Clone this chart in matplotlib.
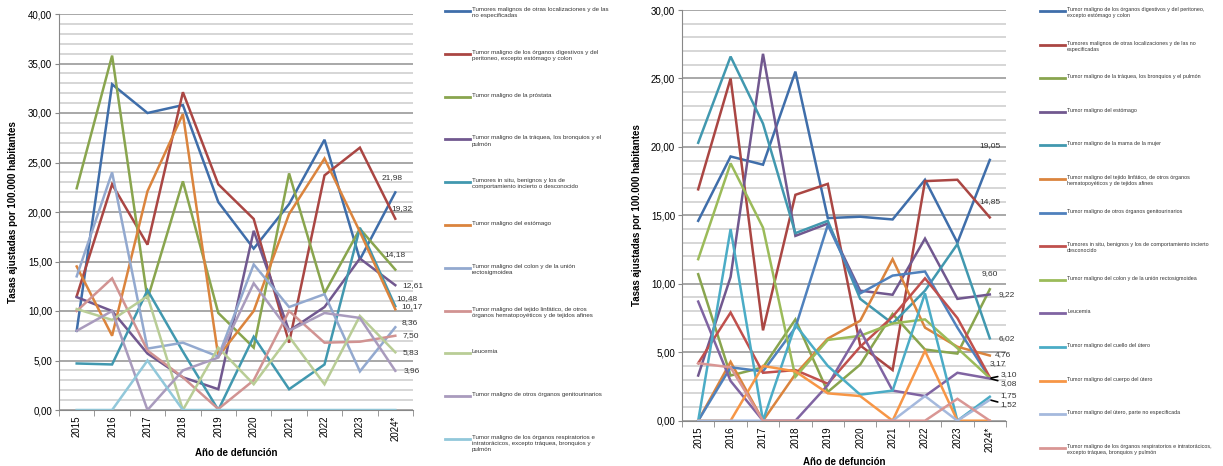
import matplotlib.pyplot as plt
from matplotlib.lines import Line2D
from matplotlib.ticker import MultipleLocator, FuncFormatter
import numpy as np

plt.rcParams["font.family"] = ["Liberation Sans", "DejaVu Sans"]

years = ["2015", "2016", "2017", "2018", "2019", "2020", "2021", "2022", "2023", "2024*"]

# ---- left chart (hombres) ----
left_names = [
    "Tumores malignos de otras localizaciones y de las\nno especificadas",
    "Tumor maligno de los órganos digestivos y del\nperitoneo, excepto estómago y colon",
    "Tumor maligno de la próstata",
    "Tumor maligno de la tráquea, los bronquios y el\npulmón",
    "Tumores in situ, benignos y los de\ncomportamiento incierto o desconocido",
    "Tumor maligno del estómago",
    "Tumor maligno del colon y de la unión\nrectosigmoidea",
    "Tumor maligno del tejido linfático, de otros\nórganos hematopoyéticos y de tejidos afines",
    "Leucemia",
    "Tumor maligno de otros órganos genitourinarios",
    "Tumor maligno de los órganos respiratorios e\nintratorácicos, excepto tráquea, bronquios y\npulmón",
]
left_colors = ["#3F6EAA", "#AA4643", "#89A54E", "#71588F", "#4198AF", "#DB843D",
               "#93A9CF", "#D19392", "#B9CD96", "#A99BBD", "#92C8DA"]
left_values = [
    [8.0, 32.9, 30.0, 30.8, 21.0, 16.3, 20.8, 27.3, 15.2, 21.98],
    [11.5, 22.8, 16.7, 32.1, 22.8, 19.3, 6.8, 23.7, 26.5, 19.32],
    [22.4, 35.8, 11.2, 23.1, 9.8, 6.3, 23.9, 11.8, 18.3, 14.18],
    [11.4, 10.0, 5.7, 3.3, 2.1, 18.1, 8.0, 10.4, 15.3, 12.61],
    [4.7, 4.6, 12.1, 5.9, 0.0, 7.4, 2.1, 4.6, 18.4, 10.48],
    [14.5, 7.5, 22.1, 29.9, 5.4, 10.0, 19.8, 25.4, 18.0, 10.17],
    [13.5, 24.0, 6.2, 6.8, 5.4, 14.7, 10.4, 11.7, 3.9, 8.36],
    [10.0, 13.3, 6.0, 3.3, 0.1, 3.0, 10.0, 6.8, 6.9, 7.50],
    [10.2, 9.1, 11.5, 0.0, 6.3, 2.6, 7.4, 2.6, 9.5, 5.83],
    [8.0, 10.0, 0.0, 4.0, 5.3, 12.8, 8.0, 9.8, 9.3, 3.96],
    [0.0, 0.0, 5.0, 0.0, 0.0, 0.0, 0.0, 0.0, 0.0, 0.0],
]
left_end_labels = ["21,98", "19,32", "14,18", "12,61", "10,48", "10,17",
                   "8,36", "7,50", "5,83", "3,96", None]

# ---- right chart (mujeres) ----
right_names = [
    "Tumor maligno de los órganos digestivos y del peritoneo,\nexcepto estómago y colon",
    "Tumores malignos de otras localizaciones y de las no\nespecificadas",
    "Tumor maligno de la tráquea, los bronquios y el pulmón",
    "Tumor maligno del estómago",
    "Tumor maligno de la mama de la mujer",
    "Tumor maligno del tejido linfático, de otros órganos\nhematopoyéticos y de tejidos afines",
    "Tumor maligno de otros órganos genitourinarios",
    "Tumores in situ, benignos y los de comportamiento incierto\ndesconocido",
    "Tumor maligno del colon y de la unión rectosigmoidea",
    "Leucemia",
    "Tumor maligno del cuello del útero",
    "Tumor maligno del cuerpo del útero",
    "Tumor maligno del útero, parte no especificada",
    "Tumor maligno de los órganos respiratorios e intratorácicos,\nexcepto tráquea, bronquios y pulmón",
]
right_colors = ["#3F6EAA", "#AA4643", "#89A54E", "#71588F", "#4198AF", "#DB843D", "#4F81BD",
                "#C0504D", "#9BBB59", "#8064A2", "#4BACC6", "#F79646", "#A5B9DD", "#D99694"]
right_values = [
    [14.6, 19.3, 18.7, 25.5, 14.8, 14.9, 14.7, 17.6, 13.0, 19.05],
    [16.9, 25.0, 6.6, 16.5, 17.3, 5.5, 3.7, 17.5, 17.6, 14.85],
    [10.7, 3.3, 3.9, 7.4, 2.1, 4.1, 7.8, 5.2, 4.9, 9.60],
    [3.3, 10.5, 26.8, 13.5, 14.4, 9.5, 9.2, 13.3, 8.9, 9.22],
    [20.3, 26.6, 21.7, 13.7, 14.6, 8.9, 7.1, 9.5, 12.9, 6.02],
    [0.0, 4.3, 0.0, 3.4, 6.0, 7.3, 11.8, 6.8, 5.4, 4.76],
    [0.0, 3.9, 3.6, 6.8, 14.3, 9.3, 10.6, 10.9, 6.8, 3.10],
    [4.2, 7.9, 3.5, 3.7, 2.7, 5.4, 7.6, 10.4, 7.5, 3.17],
    [11.8, 18.8, 14.1, 3.2, 5.9, 6.2, 7.1, 7.4, 5.3, 3.12],
    [8.7, 2.9, 0.0, 0.0, 2.6, 6.6, 2.2, 1.8, 3.5, 3.08],
    [0.0, 14.0, 0.0, 7.0, 4.0, 1.9, 2.2, 9.3, 0.0, 1.75],
    [0.0, 0.0, 4.0, 3.6, 2.0, 1.8, 0.0, 5.1, 0.0, 0.0],
    [0.0, 0.0, 0.0, 0.0, 0.0, 0.0, 0.0, 1.8, 0.0, 1.52],
    [4.2, 3.9, 0.0, 0.0, 0.0, 0.0, 0.0, 0.0, 1.6, 0.0],
]
right_end_labels = ["19,05", "14,85", "9,60", "9,22", "6,02", "4,76", "3,10",
                    "3,17", None, "3,08", "1,75", None, "1,52", None]

# label offsets in pixels and which labels get a leader line (style only)
left_offsets = [(-3, 15), (7, 10), (0, 15), (18, 0), (12, 8), (17, 3),
                (14, 5), (16, 0), (16, 0), (16, 0), (0, 0)]
right_offsets = [(0, 14), (0, 16), (0, 16), (17, 0), (17, 0), (13, 1), (19, 4),
                 (8, 14), (0, 0), (19, -5), (19, 1), (0, 0), (19, -5), (0, 0)]
right_leaders = [False] * 6 + [True, False, False, True, False, False, True, False]
left_leaders = [False] * 11

W, H = 1223, 466
fig = plt.figure(figsize=(W / 100, H / 100), dpi=100)


def fx(px):
    return px / W


def fy(py):
    return 1 - py / H


def comma(v, _):
    return f"{v:.2f}".replace(".", ",")


def draw_chart(rect, names, colors, values, labels, offsets, leaders, ymax, ylabel_x, xlabel_y):
    ax = fig.add_axes(rect)
    x = np.arange(len(years))
    for name, color, vals, lab, off, lead in zip(names, colors, values, labels, offsets, leaders):
        ax.plot(x, vals, color=color, lw=1.8, solid_joinstyle="miter", label=name)
        if lab is not None:
            arrow = dict(arrowstyle="-", color="black", lw=1.2, shrinkA=0, shrinkB=1) if lead else None
            ax.annotate(lab, (x[-1], vals[-1]), xytext=off, textcoords="offset pixels",
                        ha="center", va="center", fontsize=6.0, color="#333333",
                        arrowprops=arrow)
    ax.set_xlim(-0.5, len(years) - 0.5)
    ax.set_ylim(0, ymax)
    ax.yaxis.set_major_locator(MultipleLocator(5))
    ax.yaxis.set_minor_locator(MultipleLocator(1))
    ax.yaxis.set_major_formatter(FuncFormatter(comma))
    ax.grid(which="major", axis="y", color="#9A9A9A", lw=1.2, zorder=0)
    ax.grid(which="minor", axis="y", color="#CFCFCF", lw=1.2, zorder=0)
    ax.set_axisbelow(True)
    ax.set_xticks(x)
    ax.set_xticklabels(years, rotation=90, fontsize=7)
    ax.set_xticks(np.arange(-0.5, len(years)), minor=True)
    ax.tick_params(axis="x", which="major", length=0, pad=4)
    ax.tick_params(axis="x", which="minor", length=4, color="#888888")
    ax.tick_params(axis="y", which="major", length=3, color="#888888", labelsize=7, pad=2)
    ax.tick_params(axis="y", which="minor", length=0)
    for s in ["top", "right"]:
        ax.spines[s].set_visible(False)
    for s in ["left", "bottom"]:
        ax.spines[s].set_color("#888888")
    fig.text(fx(ylabel_x), rect[1] + rect[3] / 2, "Tasas ajustadas por 100.000 habitantes",
             rotation=90, ha="center", va="center", fontsize=7.0, fontweight="bold")
    fig.text(rect[0] + rect[2] / 2, fy(xlabel_y), "Año de defunción",
             ha="center", va="center", fontsize=7.0, fontweight="bold")
    return ax


def draw_legend(names, colors, x0, y0, step, text_dx, size):
    for i, (name, color) in enumerate(zip(names, colors)):
        y = y0 + i * step
        fig.add_artist(Line2D([fx(x0), fx(x0 + 25)], [fy(y), fy(y)],
                              transform=fig.transFigure, color=color, lw=2))
        fig.text(fx(x0 + text_dx), fy(y - 4), name, ha="left", va="top",
                 fontsize=size, color="#333333", linespacing=1.3)


draw_chart([fx(59), fy(410), fx(413 - 59), (410 - 14) / H], left_names, left_colors,
           left_values, left_end_labels, left_offsets, left_leaders, 40, 13, 453)
draw_chart([fx(682), fy(420.7), fx(1006 - 682), (420.7 - 10) / H], right_names, right_colors,
           right_values, right_end_labels, right_offsets, right_leaders, 30, 637, 462)

draw_legend(left_names, left_colors, 445, 11, 42.8, 27, 4.4)
draw_legend(right_names, right_colors, 1040, 11, 33.6, 27, 3.85)

fig.savefig("out.png", dpi=100)
